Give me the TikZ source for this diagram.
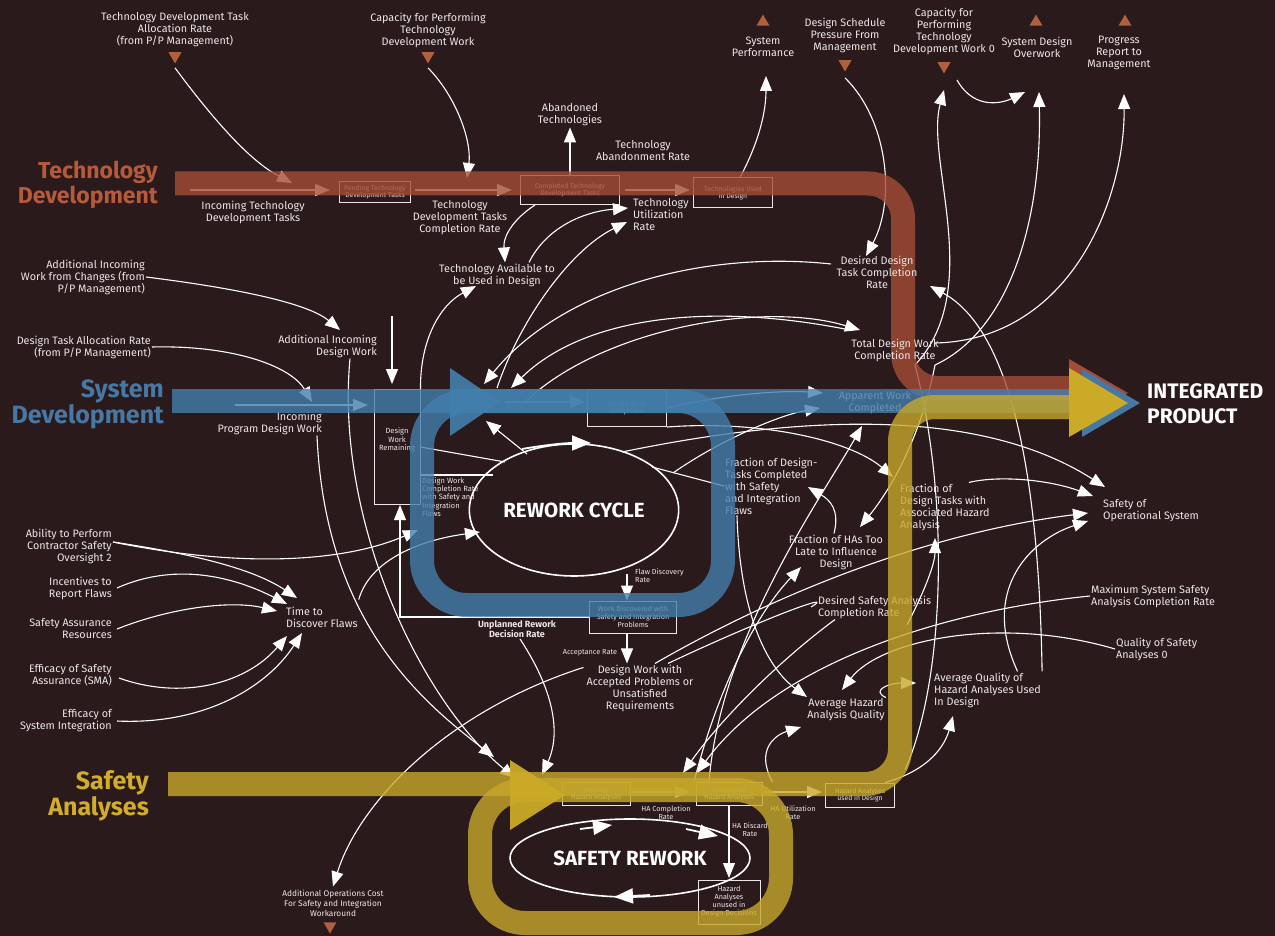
\documentclass[tikz,border=0pt]{standalone}
\usepackage{fontspec}
\setmainfont{Fira Sans}
\usetikzlibrary{arrows.meta,shapes.geometric}
\definecolor{bg}{HTML}{2B1A1C}
\definecolor{techband}{HTML}{A44D36}
\definecolor{techtitle}{HTML}{B65A3C}
\definecolor{sysband}{HTML}{437FAD}
\definecolor{systitle}{HTML}{4778A3}
\definecolor{safband}{HTML}{C7A82B}
\definecolor{saftitle}{HTML}{D2AC2B}
\definecolor{saftri}{HTML}{CBAA27}
\definecolor{tric}{HTML}{B0603F}
\definecolor{txt}{HTML}{ECE6E6}
\tikzset{
  lab/.style={text=txt, font=\fontsize{10.8}{12}\selectfont, align=center, inner sep=1pt},
  labl/.style={lab, align=left, anchor=west},
  labr/.style={lab, align=right, anchor=east},
  small/.style={text=txt, font=\fontsize{7.5}{8.6}\selectfont, align=center, inner sep=1pt},
  stockbox/.style={draw=txt, line width=1pt, text=txt, font=\fontsize{6.8}{7.6}\selectfont, align=center, inner sep=1pt},
  conn/.style={draw=white, line width=1.1pt, -{Triangle[length=15pt,width=12pt]}},
  cyc/.style={draw=white, line width=1.8pt, -{Triangle[length=19pt,width=15pt]}},
  plain/.style={draw=white, line width=1.1pt},
  tridown/.style={regular polygon, regular polygon sides=3, shape border rotate=180, fill=tric, minimum size=15pt, inner sep=0pt},
  triup/.style={regular polygon, regular polygon sides=3, fill=tric, minimum size=15pt, inner sep=0pt},
  title/.style={font=\fontsize{23}{25}\selectfont\bfseries, align=right, anchor=east, inner sep=0pt},
  band/.style={line width=24pt, opacity=0.8},
  bigtxt/.style={font=\fontsize{20.5}{22}\selectfont\bfseries, text=white},
}
\begin{document}
\begin{tikzpicture}[x=1pt,y=-1pt]
\fill[bg] (0,0) rectangle (1275,936);
\useasboundingbox (0,0) rectangle (1275,936);

% ---------------- top inputs / outputs
\node[lab] (n_tdtar) at (175,30) {Technology Development Task\\Allocation Rate\\(from P/P Management)};
\node[tridown] (t_tdtar) at (175,56) {};
\node[lab] (n_cptdw) at (428,30) {Capacity for Performing\\Technology\\Development Work};
\node[tridown] (t_cptdw) at (428,56) {};
\node[triup] (t_sp) at (763,22) {};
\node[lab] (n_sp) at (763,47) {System\\Performance};
\node[lab] (n_dsp) at (845,35) {Design Schedule\\Pressure From\\Management};
\node[tridown] (t_dsp) at (845,64) {};
\node[lab] (n_cap0) at (944,31) {Capacity for\\Performing\\Technology\\Development Work 0};
\node[tridown] (t_cap0) at (944,66) {};
\node[triup] (t_sdo) at (1036,22) {};
\node[lab] (n_sdo) at (1037,47) {System Design\\Overwork};
\node[triup] (t_prm) at (1125,22) {};
\node[lab] (n_prm) at (1119,53) {Progress\\Report to\\Management};

% ---------------- technology development
\node[stockbox, minimum width=71pt, minimum height=21pt] (b_ptd) at (375,192) {Pending Technology\\Development Tasks};
\node[stockbox, minimum width=99pt, minimum height=29pt] (b_ctd) at (570,190) {Completed Technology\\Development Tasks};
\node[stockbox, minimum width=79pt, minimum height=30pt] (b_tud) at (733,193) {Technologies Used\\in Design};
\node[lab] (l_itdt) at (253,212) {Incoming Technology\\Development Tasks};
\node[lab] (l_tdtcr) at (460,218) {Technology\\Development Tasks\\Completion Rate};
\node[lab] (l_at) at (570,115) {Abandoned\\Technologies};
\node[lab] (l_tar) at (643,151) {Technology\\Abandonment Rate};
\node[labl] (l_tur) at (632,215) {Technology\\Utilization\\Rate};
\node[lab] (l_tau) at (497,275) {Technology Available to\\be Used in Design};

% ---------------- left inputs
\node[labr] (l_aiwc) at (146,277) {Additional Incoming\\Work from Changes (from\\P/P Management)};
\node[labr] (l_dtar) at (152,347) {Design Task Allocation Rate\\(from P/P Management)};
\node[labr] (l_apcs) at (113,546) {Ability to Perform\\Contractor Safety\\Oversight 2};
\node[labr] (l_irf) at (113,588) {Incentives to\\Report Flaws};
\node[labr] (l_sar) at (113,629) {Safety Assurance\\Resources};
\node[labr] (l_esa) at (113,675) {Efficacy of Safety\\Assurance (SMA)};
\node[labr] (l_esi) at (113,721) {Efficacy of\\System Integration};
\node[labl] (l_tdf) at (285,617) {Time to\\Discover Flaws};

% ---------------- system development
\node[stockbox, minimum width=46pt, minimum height=115pt] (b_dwr) at (397,447) {};
\node[stockbox, draw=none, font=\fontsize{7.5}{8.6}\selectfont] (l_dwr) at (397,440) {Design\\Work\\Remaining};
\node[stockbox, minimum width=79pt, minimum height=37pt] (b_dwc) at (627,408) {Design Work\\Completed};
\node[lab] (l_awc) at (875,403) {Apparent Work\\Completed};
\node[labr] (l_ipdw) at (323,423) {Incoming\\Program Design Work};
\node[labr] (l_aidw) at (378,346) {Additional Incoming\\Design Work};
\node[small, align=left, anchor=west, font=\fontsize{7.5}{8.3}\selectfont] (l_dwcr) at (421,497) {Design Work\\Completion Rate\\with Safety and\\Integration\\Flaws};
\node[draw=white, line width=1.6pt, ellipse, minimum width=185pt, minimum height=132pt, bigtxt] (e_rc) at (574,510) {REWORK CYCLE};
\node[small, align=left, anchor=west, font=\fontsize{7.3}{8.2}\selectfont] (l_fdr) at (634,576) {Flaw Discovery\\Rate};
\node[stockbox, minimum width=87pt, minimum height=32pt, font=\fontsize{7.2}{8}\selectfont] (b_wd) at (633,617) {Work Discovered with\\Safety and Integration\\Problems};
\node[small, font=\fontsize{9}{10.5}\selectfont\bfseries] (l_urdr) at (517,629) {Unplanned Rework\\Decision Rate};
\node[small, font=\fontsize{7.3}{8}\selectfont] (l_ar) at (590,653) {Acceptance Rate};
\node[lab] (l_dwap) at (640,688) {Design Work with\\Accepted Problems or\\Unsatisfied\\Requirements};
\node[labl] (l_fdt) at (724,486) {Fraction of Design-\\Tasks Completed\\with Safety\\and Integration\\Flaws};
\node[lab] (l_fha) at (836,552) {Fraction of HAs Too\\Late to Influence\\Design};
\node[labl] (l_fdha) at (899,507) {Fraction of\\Design Tasks with\\Associated Hazard\\Analysis};
\node[labl] (l_soos) at (1102,511) {Safety of\\Operational System};
\node[labl] (l_dsacr) at (817,607) {Desired Safety Analysis\\Completion Rate};
\node[labl] (l_mssacr) at (1090,596) {Maximum System Safety\\Analysis Completion Rate};
\node[labl] (l_qsa) at (1115,649) {Quality of Safety\\Analyses 0};
\node[lab] (l_ahaq) at (846,710) {Average Hazard\\Analysis Quality};
\node[labl] (l_aqha) at (933,690) {Average Quality of\\Hazard Analyses Used\\In Design};

% ---------------- safety analyses
\node[stockbox, minimum width=68pt, minimum height=23pt] (b_pha) at (596,794) {Pending\\Hazard Analyses};
\node[stockbox, minimum width=66pt, minimum height=23pt] (b_cha) at (729,794) {Completed\\Hazard Analyses};
\node[stockbox, minimum width=69pt, minimum height=24pt] (b_hau) at (860,795) {Hazard Analyses\\used in Design};
\node[small, font=\fontsize{7.3}{8}\selectfont] (l_hacr) at (666,813) {HA Completion\\Rate};
\node[small, font=\fontsize{7.3}{8}\selectfont] (l_haur) at (793,813) {HA Utilization\\Rate};
\node[small, font=\fontsize{7.3}{8}\selectfont] (l_hadr) at (750,830) {HA Discard\\Rate};
\node[stockbox, minimum width=62pt, minimum height=44pt, font=\fontsize{7.3}{8}\selectfont] (b_hauu) at (729,902) {Hazard\\Analyses\\unused in\\Design Decisions};
\node[draw=white, line width=1.6pt, ellipse, minimum width=240pt, minimum height=78pt, bigtxt] (e_sr) at (630,858) {SAFETY REWORK};
\node[small, font=\fontsize{8.3}{10}\selectfont] (l_aoc) at (333,903) {Additional Operations Cost\\For Safety and Integration\\Workaround};
\node[tridown] (t_aoc) at (330,926) {};

% ---------------- free ends
\coordinate (p_ptdin) at (292,183);
\coordinate (p_ctdin) at (467,178);
\coordinate (p_tu1) at (628,208);
\coordinate (p_tu2) at (627,222);
\coordinate (p_sp) at (766,76);
\coordinate (p_ddt) at (866,256);
\coordinate (p_cap0) at (944,90);
\coordinate (p_sdo) at (1025,92);
\coordinate (p_sdo2) at (1039,92);
\coordinate (p_prm) at (1124,94);
\coordinate (p_aidw) at (340,330);
\coordinate (p_itd) at (312,402);
\coordinate (p_aidf1) at (392,316);
\coordinate (p_aidf2) at (392,384);
\coordinate (p_bflow1) at (235,405);
\coordinate (p_bflow2) at (368,405);
\coordinate (p_bflow3) at (505,402);
\coordinate (p_bflow4) at (585,402);
\coordinate (p_tflow1) at (190,190);
\coordinate (p_tflow2) at (330,190);
\coordinate (p_tflow3) at (415,190);
\coordinate (p_tflow4) at (512,190);
\coordinate (p_tflow5) at (625,190);
\coordinate (p_tflow6) at (690,190);
\coordinate (p_yflow1) at (632,792);
\coordinate (p_yflow2) at (690,792);
\coordinate (p_yflow3) at (765,792);
\coordinate (p_yflow4) at (822,792);
\coordinate (p_in1) at (484,384);
\coordinate (p_in2) at (497,388);
\coordinate (p_tdf1) at (297,598);
\coordinate (p_tdf2) at (287,604);
\coordinate (p_tdf3) at (277,611);
\coordinate (p_tdf4) at (287,636);
\coordinate (p_tdf5) at (302,633);
\coordinate (p_dwcrin) at (418,530);
\coordinate (p_rcin) at (480,532);
\coordinate (p_rcl) at (493,475);
\coordinate (p_rcl2) at (505,462);
\coordinate (p_rctop1) at (527,454);
\coordinate (p_rctop2) at (486,421);
\coordinate (p_rcarr1) at (522,449);
\coordinate (p_rcarr2) at (591,443);
\coordinate (p_rcr1) at (622,452);
\coordinate (p_rcr2) at (652,467);
\coordinate (p_rcr3) at (673,473);
\coordinate (p_fd1) at (627,574);
\coordinate (p_y1) at (494,757);
\coordinate (p_y2) at (515,778);
\coordinate (p_pha) at (542,775);
\coordinate (p_hac1) at (683,773);
\coordinate (p_hac2) at (697,773);
\coordinate (p_ahq1) at (801,727);
\coordinate (p_ahq2) at (842,690);
\coordinate (p_ahq3) at (807,697);
\coordinate (p_aq1) at (916,683);
\coordinate (p_aq2) at (953,716);
\coordinate (p_aw1) at (823,393);
\coordinate (p_aw2) at (820,408);
\coordinate (p_aw3) at (862,426);
\coordinate (p_so1) at (1105,487);
\coordinate (p_so2) at (1093,496);
\coordinate (p_so3) at (1088,513);
\coordinate (p_so4) at (1088,521);
\coordinate (p_fha1) at (860,527);
\coordinate (p_fha2) at (801,567);
\coordinate (p_fdt1) at (808,487);
\coordinate (p_fdha1) at (893,477);
\coordinate (p_fdha2) at (935,538);
\coordinate (p_ddt2) at (930,286);
\coordinate (p_tdw1) at (860,330);
\coordinate (p_tav) at (476,286);
\coordinate (p_hau1) at (905,770);
\coordinate (p_ser1) at (580,829);
\coordinate (p_ser2) at (612,825);
\coordinate (p_ser3) at (686,829);
\coordinate (p_ser4) at (718,836);
\coordinate (p_ser5) at (650,895);
\coordinate (p_ser6) at (614,897);
\coordinate (p_hauu) at (729,878);
\coordinate (p_tdwsrc) at (915,365);

% ---------------- connectors: technology
\draw[conn] ([yshift=-4pt]t_tdtar.south) .. controls (210,115) and (248,160) .. (p_ptdin);
\draw[conn] ([yshift=-4pt]t_cptdw.south) .. controls (455,95) and (472,140) .. (p_ctdin);
\draw[conn] ([xshift=-35pt]b_ctd.south) .. controls (515,218) and (503,235) .. ([xshift=8pt]l_tau.north);
\draw[conn] ([xshift=32pt]l_tau.north) .. controls (545,230) and (580,212) .. (p_tu1);
\draw[conn] (b_ctd.north) -- (l_at.south);
\draw[conn] ([xshift=7pt]b_tud.north) .. controls (760,140) and (766,110) .. (p_sp);
\draw[conn] (p_tflow1) -- (p_tflow2);
\draw[conn] (p_tflow3) -- (p_tflow4);
\draw[conn] (p_tflow5) -- (p_tflow6);

% ---------------- connectors: top right
\draw[conn] ([yshift=-6pt]t_dsp.south) .. controls (888,120) and (896,200) .. (p_ddt);
\draw[conn] (p_tdwsrc) .. controls (985,290) and (925,160) .. (p_cap0);
\draw[conn] ([xshift=13pt,yshift=-14pt]t_cap0.center) .. controls (975,112) and (1005,102) .. (p_sdo);
\draw[conn] ([xshift=20pt]p_tdwsrc) .. controls (1010,330) and (1042,220) .. (p_sdo2);
\draw[conn] ([xshift=20pt,yshift=22pt]p_tdwsrc) .. controls (1070,340) and (1125,200) .. (p_prm);
\draw[conn] (l_aqha.north east) .. controls (1040,560) and (1030,340) .. (p_ddt2);

% ---------------- connectors: system development
\draw[conn] (l_aiwc.east) .. controls (250,290) and (310,305) .. (p_aidw);
\draw[conn] (l_dtar.east) .. controls (230,345) and (290,365) .. (p_itd);
\draw[conn] (p_aidf1) -- (p_aidf2);
\draw[conn] (p_bflow1) -- (p_bflow2);
\draw[conn] (p_bflow3) -- (p_bflow4);
\draw[conn] (b_dwr.north east) .. controls (420,340) and (440,305) .. (p_tav);
\draw[conn] (p_in2) .. controls (520,320) and (570,250) .. (p_tu2);
\draw[conn] ([xshift=-35pt,yshift=-8pt]p_ddt) .. controls (700,250) and (560,290) .. (p_in1);
\draw[conn] ([xshift=-10pt]p_tdw1) .. controls (700,300) and (580,320) .. ([xshift=14pt]p_in2);
\draw[conn] ([xshift=20pt]p_bflow3) .. controls (600,330) and (760,300) .. (p_tdw1);
\draw[conn] (b_dwc.east) .. controls (720,395) and (780,390) .. (p_aw1);
\draw[conn] (p_rcr3) .. controls (720,440) and (780,415) .. (p_aw2);
\draw[conn] (p_rcr1) .. controls (850,405) and (1000,420) .. (p_so1);
\draw[plain] (p_rcr2) -- (l_fdt.west);
\draw[conn] (b_dwc.south east) .. controls (760,420) and (850,440) .. (p_fdha1);
\draw[conn] (b_wd.west) -| ([xshift=3pt]b_dwr.south);
\draw[plain] ([yshift=-28pt]b_dwr.east) -- (p_rcl);
\draw[plain] (b_dwr.east) -- (p_rcl2);
\draw[conn] (p_rctop1) -- (p_rctop2);
\draw[cyc] (p_rcarr1) .. controls (545,445) and (565,443) .. (p_rcarr2);
\draw[conn] (p_fd1) -- ([xshift=-6pt]b_wd.north);
\draw[conn] ([xshift=-6pt]b_wd.south) -- ([xshift=-13pt]l_dwap.north);

% ---------------- connectors: time to discover flaws
\draw[conn] ([yshift=4pt]l_apcs.east) .. controls (200,555) and (255,570) .. (p_tdf1);
\draw[conn] ([yshift=4pt]l_apcs.east) .. controls (250,570) and (350,560) .. (p_dwcrin);
\draw[conn] ([xshift=4pt]l_irf.east) .. controls (180,560) and (240,580) .. (p_tdf2);
\draw[conn] ([xshift=4pt]l_sar.east) .. controls (170,608) and (230,600) .. (p_tdf3);
\draw[conn] ([xshift=6pt,yshift=-3pt]l_esa.east) .. controls (180,700) and (245,685) .. (p_tdf4);
\draw[conn] ([xshift=4pt]l_esi.east) .. controls (200,725) and (265,690) .. (p_tdf5);
\draw[conn] ([yshift=6pt]l_tdf.north east) .. controls (370,560) and (420,540) .. (p_rcin);

% ---------------- connectors: down to safety
\draw[conn] ([xshift=-6pt]l_ipdw.south east) .. controls (325,620) and (420,700) .. (p_y1);
\draw[conn] ([xshift=-28pt]l_aidw.south east) .. controls (335,520) and (420,700) .. (p_y2);
\draw[conn] ([xshift=3pt]l_urdr.south) .. controls (560,700) and (558,740) .. (p_pha);
\draw[conn] ([xshift=-2pt,yshift=-4pt]l_dwap.north west) .. controls (450,710) and (360,800) .. ([yshift=2pt]l_aoc.north);
\draw[conn] ([xshift=15pt]l_dwap.north) .. controls (800,580) and (950,530) .. (p_so3);
\draw[plain] ([xshift=28pt]l_dwap.north) .. controls (760,620) and (840,590) .. ([xshift=-6pt]l_dsacr.west);

% ---------------- connectors: right middle
\draw[conn] ([xshift=-2pt]l_fha.north) .. controls (840,510) and (830,500) .. (p_fdt1);
\draw[conn] ([xshift=20pt]p_tdwsrc) .. controls (920,440) and (890,490) .. (p_fha1);
\draw[conn] ([xshift=-35pt]b_cha.north) .. controls (720,680) and (760,610) .. (p_fha2);
\draw[conn] ([xshift=-20pt]b_cha.north) .. controls (720,640) and (820,500) .. (p_aw3);
\draw[conn] ([xshift=13pt]l_fdt.south west) .. controls (740,620) and (770,670) .. (p_ahq3);
\draw[conn] ([xshift=-25pt,yshift=-5pt]l_dsacr.south east) .. controls (930,580) and (935,560) .. (p_fdha2);
\draw[conn] ([xshift=-22pt]l_fdha.north east) .. controls (1000,475) and (1050,480) .. (p_so2);
\draw[conn] ([xshift=30pt]l_aqha.north) .. controls (980,590) and (1030,540) .. (p_so4);
\draw[plain] (p_tdwsrc) .. controls (950,500) and (945,680) .. (p_hau1);

% ---------------- connectors: safety analyses
\draw[conn] ([xshift=18pt]l_dsacr.south west) .. controls (780,660) and (720,720) .. (p_hac1);
\draw[conn] (l_mssacr.west) .. controls (950,610) and (780,660) .. (p_hac2);
\draw[conn] (l_qsa.west) .. controls (1000,615) and (880,640) .. (p_ahq2);
\draw[conn] ([xshift=10pt]b_cha.north east) .. controls (755,750) and (775,735) .. (p_ahq1);
\draw[conn] (l_ahaq.north east) .. controls (870,690) and (890,683) .. (p_aq1);
\draw[conn] ([xshift=25pt]b_hau.north) .. controls (930,770) and (945,745) .. (p_aq2);
\draw[conn] (p_yflow1) -- (p_yflow2);
\draw[conn] (p_yflow3) -- (p_yflow4);
\draw[conn] (b_cha.south) -- (p_hauu);
\draw[cyc] (p_ser1) -- (p_ser2);
\draw[cyc] (p_ser3) -- (p_ser4);
\draw[cyc] (p_ser5) -- (p_ser6);

% ---------------- bands
\draw[band, techband, rounded corners=35pt] (175,183.5) -- (903,183.5) -- (903,388) -- (1075,388);
\draw[band, sysband] (172,401) -- (1075,401);
\draw[band, sysband, rounded corners=45pt] (422,401) rectangle (723,605);
\draw[band, safband, rounded corners=35pt] (168,784) -- (900,784) -- (900,407) -- (1075,407);
\draw[band, safband, rounded corners=45pt] (480,790) rectangle (781,923);

% ---------------- labels drawn over the bands
\node[lab] (l_ddtcr) at (877,272) {Desired Design\\Task Completion\\Rate};
\node[lab] (l_tdwcr) at (895,350) {Total Design Work\\Completion Rate};

% ---------------- big triangles and titles
\fill[sysband, opacity=0.9] (450,368) -- (500,402) -- (450,436) -- cycle;
\fill[saftri, opacity=0.95] (510,760) -- (565,795) -- (510,830) -- cycle;
\fill[techband] (1069,359) -- (1128,393) -- (1069,427) -- cycle;
\fill[systitle] (1082,369) -- (1140,403) -- (1082,437) -- cycle;
\fill[saftri] (1069,368) -- (1128,403) -- (1069,437) -- cycle;
\node[title, text=techtitle] (ti_tech) at (158,185) {Technology\\Development};
\node[title, text=systitle, font=\fontsize{25}{26}\selectfont\bfseries] (ti_sys) at (164,404) {System\\Development};
\node[title, text=saftitle, font=\fontsize{25}{26}\selectfont\bfseries] (ti_saf) at (149,796) {Safety\\Analyses};
\node[bigtxt, font=\fontsize{21}{25}\selectfont\bfseries, align=left, anchor=west, inner sep=0pt] (ti_ip) at (1147,404) {INTEGRATED\\PRODUCT};
\end{tikzpicture}
\end{document}
